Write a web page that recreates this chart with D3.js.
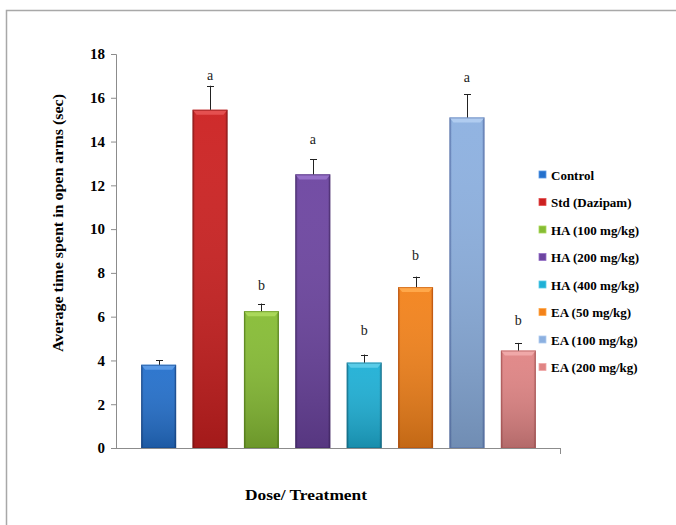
<!DOCTYPE html>
<html>
<head>
<meta charset="utf-8">
<script src="https://cdn.jsdelivr.net/npm/d3@7"></script>
<style>
  html, body { margin: 0; padding: 0; background: #fff; }
  svg { display: block; }
</style>
</head>
<body>
<svg id="chart" width="676" height="525"></svg>
<script>
// ---- data ----
const categories = ["Control", "Std (Dazipam)", "HA (100 mg/kg)", "HA (200 mg/kg)",
                    "HA (400 mg/kg)", "EA (50 mg/kg)", "EA (100 mg/kg)", "EA (200 mg/kg)"];
const means  = [3.8, 15.45, 6.25, 12.5, 3.9, 7.35, 15.1, 4.45];
const errors = [0.2, 1.1, 0.35, 0.7, 0.37, 0.48, 1.05, 0.35];
const letters = ["", "a", "b", "a", "b", "b", "a", "b"];
const letterLevels = [null, 17.05, 7.45, 14.1, 5.4, 8.8, 16.95, 5.85];
const yTicks = [0, 2, 4, 6, 8, 10, 12, 14, 16, 18];
const yTitle = "Average time spent in open arms (sec)";
const xTitle = "Dose/ Treatment";

// ---- styles ----
const baseColors = ["#2470cc", "#cc2020", "#86bc34", "#6c44a0", "#1eb0d6", "#f3821a", "#8cb0e0", "#e08484"];
const darkColors = ["#174a8e", "#8a1414", "#5a861c", "#472a6e", "#12708c", "#bd540c", "#5874ac", "#ad5858"];
const lightColors = ["#5a9ae6", "#e45050", "#aad85a", "#9670c8", "#5acce8", "#ffa84a", "#b0ccf0", "#f0a8a8"];

const svg = d3.select("#chart");
const defs = svg.append("defs");

// frame
svg.append("rect").attr("x", 6.5).attr("y", 10.5).attr("width", 720).attr("height", 600)
  .attr("fill", "#fff").attr("stroke", "#a8a8a8").attr("stroke-width", 1.5);

const x = d3.scaleBand().domain(categories).range([116, 561]).paddingInner(0.32).paddingOuter(0.49);
const y = d3.scaleLinear().domain([0, 18]).range([448, 54]);

// gradients
categories.forEach((c, i) => {
  const g = defs.append("linearGradient").attr("id", "gh" + i)
    .attr("x1", "0").attr("x2", "1").attr("y1", "0").attr("y2", "0");
  g.append("stop").attr("offset", "0%").attr("stop-color", darkColors[i]);
  g.append("stop").attr("offset", "7%").attr("stop-color", baseColors[i]);
  g.append("stop").attr("offset", "93%").attr("stop-color", baseColors[i]);
  g.append("stop").attr("offset", "100%").attr("stop-color", darkColors[i]);
});
const gv = defs.append("linearGradient").attr("id", "gv")
  .attr("x1", "0").attr("x2", "0").attr("y1", "0").attr("y2", "1");
gv.append("stop").attr("offset", "0%").attr("stop-color", "#fff").attr("stop-opacity", 0.05);
gv.append("stop").attr("offset", "100%").attr("stop-color", "#000").attr("stop-opacity", 0.2);

// y axis
const yAxis = d3.axisLeft(y).tickValues(yTicks).tickSize(5).tickPadding(6).tickFormat(d3.format("d"));
const yg = svg.append("g").attr("transform", "translate(116,0)").call(yAxis);
yg.select(".domain").attr("stroke", "#8c8c8c");
yg.selectAll(".tick line").attr("stroke", "#8c8c8c");
yg.selectAll(".tick text")
  .attr("font-family", "'Liberation Serif', 'Times New Roman', serif")
  .attr("font-weight", "bold").attr("font-size", 15).attr("fill", "#000");

// x axis line
svg.append("line").attr("x1", 116).attr("x2", 561).attr("y1", 448.5).attr("y2", 448.5)
  .attr("stroke", "#8c8c8c");
svg.append("line").attr("x1", 560.5).attr("x2", 560.5).attr("y1", 448.5).attr("y2", 454)
  .attr("stroke", "#8c8c8c");

// bars
const bars = svg.append("g");
categories.forEach((c, i) => {
  const bx = x(c), bw = x.bandwidth(), by = y(means[i]), bh = y(0) - y(means[i]);
  bars.append("rect").attr("x", bx).attr("y", by).attr("width", bw).attr("height", bh)
    .attr("fill", `url(#gh${i})`);
  bars.append("rect").attr("x", bx).attr("y", by).attr("width", bw).attr("height", bh)
    .attr("fill", "url(#gv)");
  // top bevel
  bars.append("path")
    .attr("d", `M${bx},${by}L${bx + bw},${by}L${bx + bw - 4},${by + 5}L${bx + 4},${by + 5}Z`)
    .attr("fill", lightColors[i]);
  bars.append("rect").attr("x", bx + 0.5).attr("y", by + 0.5).attr("width", bw - 1).attr("height", bh - 1)
    .attr("fill", "none").attr("stroke", darkColors[i]).attr("stroke-opacity", 0.6);
});

// error bars
const eb = svg.append("g").attr("stroke", "#222").attr("stroke-width", 1);
categories.forEach((c, i) => {
  const cx = Math.round(x(c) + x.bandwidth() / 2) + 0.5;
  eb.append("line").attr("x1", cx).attr("x2", cx).attr("y1", y(means[i])).attr("y2", y(means[i] + errors[i]));
  eb.append("line").attr("x1", cx - 3.5).attr("x2", cx + 3.5)
    .attr("y1", Math.round(y(means[i] + errors[i])) + 0.5).attr("y2", Math.round(y(means[i] + errors[i])) + 0.5);
});

// letters
categories.forEach((c, i) => {
  if (!letters[i]) return;
  svg.append("text").attr("x", x(c) + x.bandwidth() / 2).attr("y", y(letterLevels[i]))
    .attr("dy", "0.35em").attr("text-anchor", "middle")
    .attr("font-family", "'Liberation Serif', 'Times New Roman', serif")
    .attr("font-size", 14).attr("fill", "#222").text(letters[i]);
});

// axis titles
svg.append("text").attr("transform", "translate(58,223) rotate(-90)")
  .attr("text-anchor", "middle").attr("dy", "0.35em")
  .attr("font-family", "'Liberation Serif', 'Times New Roman', serif")
  .attr("font-weight", "bold").attr("font-size", 14)
  .attr("textLength", 258).attr("lengthAdjust", "spacingAndGlyphs")
  .text(yTitle);
svg.append("text").attr("x", 306).attr("y", 495).attr("dy", "0.35em")
  .attr("text-anchor", "middle")
  .attr("font-family", "'Liberation Serif', 'Times New Roman', serif")
  .attr("font-weight", "bold").attr("font-size", 15)
  .attr("textLength", 122).attr("lengthAdjust", "spacingAndGlyphs")
  .text(xTitle);

// legend
const leg = svg.append("g");
categories.forEach((c, i) => {
  const ly = 175 + i * 27.5;
  leg.append("rect").attr("x", 539).attr("y", ly - 4).attr("width", 7).attr("height", 7)
    .attr("fill", `url(#gh${i})`).attr("stroke", lightColors[i]).attr("stroke-width", 0.8);
  leg.append("text").attr("x", 551).attr("y", ly).attr("dy", "0.35em")
    .attr("font-family", "'Liberation Serif', 'Times New Roman', serif")
    .attr("font-weight", "bold").attr("font-size", 13).attr("fill", "#000").text(c);
});
</script>
</body>
</html>
